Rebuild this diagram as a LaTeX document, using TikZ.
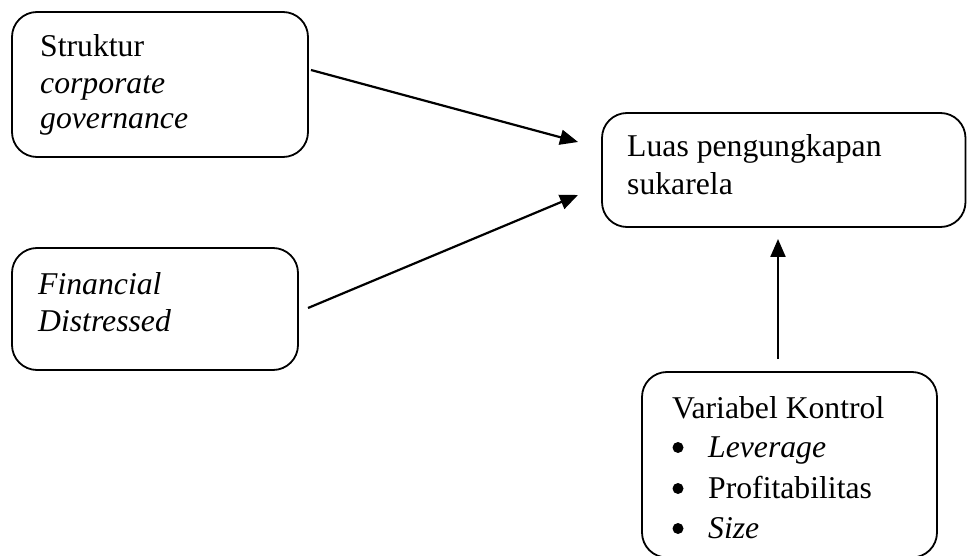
\documentclass[tikz,border=0pt]{standalone}
\usepackage{fontspec}
\setmainfont{Liberation Serif}
\usetikzlibrary{arrows.meta}
\begin{document}
\begin{tikzpicture}[x=1bp,y=-1bp,
  box/.style={draw, line width=1.8bp, rounded corners=25bp, inner sep=0pt},
  txt/.style={anchor=base west, inner sep=0pt, font=\fontsize{31.7bp}{38bp}\selectfont},
  dot/.style={circle, fill, inner sep=0pt, minimum size=11bp},
  arr/.style={line width=2.2bp, -{Triangle[length=18bp,width=15bp]}}]
\useasboundingbox (0,0) rectangle (967,556);
% boxes
\node[box, minimum width=296bp, minimum height=145bp] (b1) at (160,84.5) {};
\node[box, minimum width=286bp, minimum height=122bp] (b2) at (155,309) {};
\node[box, minimum width=363.5bp, minimum height=114bp] (b3) at (783.75,170) {};
\node[box, minimum width=295bp, minimum height=185.5bp] (b4) at (789.5,464.75) {};
% texts
\node[txt] (t11) at (40,57) {Struktur};
\node[txt] (t12) at (40,93.5) {\textit{corporate}};
\node[txt] (t13) at (40,129) {\textit{governance}};
\node[txt] (t21) at (38,294.5) {\textit{Financial}};
\node[txt] (t22) at (38,332) {\textit{Distressed}};
\node[txt] (t31) at (627,157) {Luas pengungkapan};
\node[txt] (t32) at (627,195) {sukarela};
\node[txt] (t41) at (672,418) {Variabel Kontrol};
\node[dot] (p1) at (678,447.5) {};
\node[dot] (p2) at (678,488.5) {};
\node[dot] (p3) at (678,528.5) {};
\node[txt] (t42) at (708,457) {\textit{Leverage}};
\node[txt] (t43) at (708,498) {Profitabilitas};
\node[txt] (t44) at (708,538) {\textit{Size}};
% connectors
\coordinate (a1s) at (311,70);
\coordinate (a1e) at (578,142);
\coordinate (a2s) at (308,308);
\coordinate (a2e) at (578,195);
\coordinate (a3s) at (778,359);
\coordinate (a3e) at (778,239);
\draw[arr] (a1s) -- (a1e);
\draw[arr] (a2s) -- (a2e);
\draw[arr] (a3s) -- (a3e);
\end{tikzpicture}
\end{document}
